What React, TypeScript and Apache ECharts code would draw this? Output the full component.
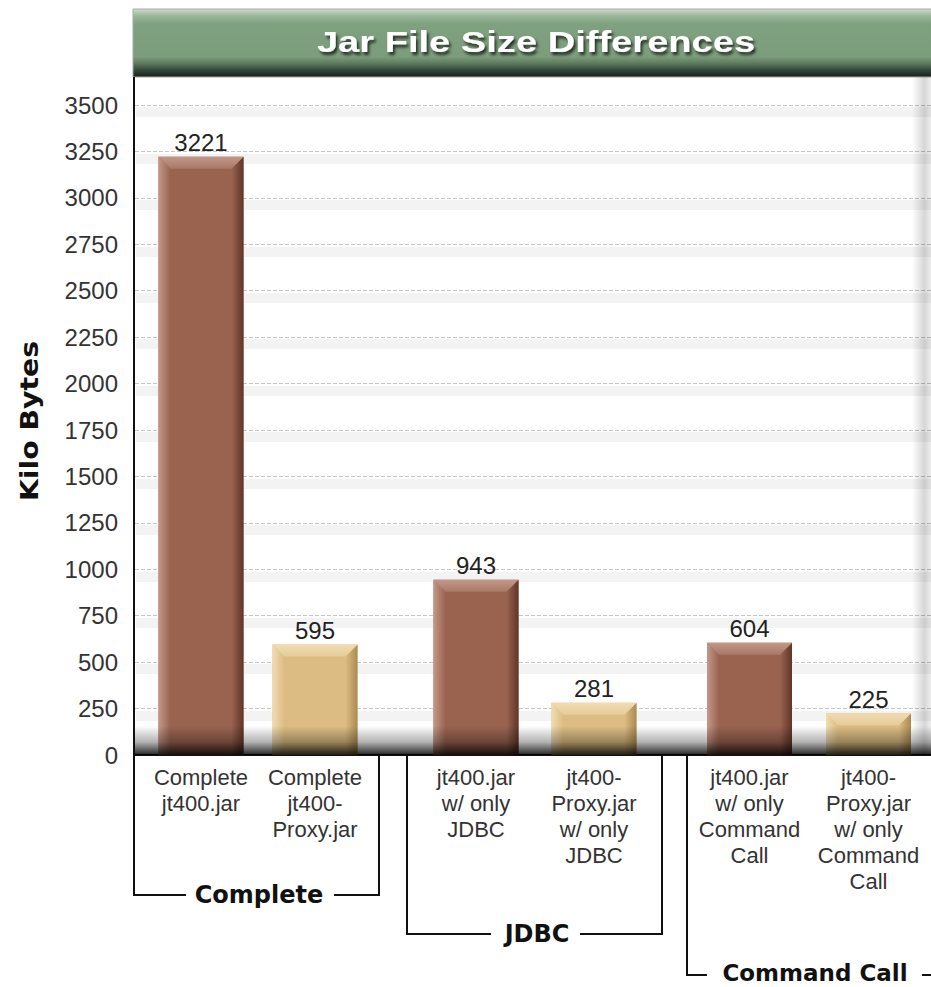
import React, { useEffect, useRef } from 'react';
import * as echarts from 'echarts';

// ---------- data ----------
const chartTitle = 'Jar File Size Differences';
const yAxisTitle = 'Kilo Bytes';
const groupNames = ['Complete', 'JDBC', 'Command Call'];
const jt400Labels = ['Complete\njt400.jar', 'jt400.jar\nw/ only\nJDBC', 'jt400.jar\nw/ only\nCommand\nCall'];
const proxyLabels = ['Complete\njt400-\nProxy.jar', 'jt400-\nProxy.jar\nw/ only\nJDBC', 'jt400-\nProxy.jar\nw/ only\nCommand\nCall'];
const jt400Sizes = [3221, 943, 604];
const proxySizes = [595, 281, 225];
const yMin = 0;
const yMax = 3500;
const yStep = 250;

// ---------- styling ----------
const W = 931;
const H = 987;
const PLOT_TOP = 105;
const PLOT_BASE = 755;
const BOTTOM = H - PLOT_BASE;
const SANS = '"Liberation Sans", Arial, Helvetica, sans-serif';
const BOLD = '"DejaVu Sans", Verdana, sans-serif';
const barGrids = [
  { left: 144, width: 228 },
  { left: 417, width: 236 },
  { left: 690, width: 238 },
];
const palettes = [
  { face: '#9a6350', light: '#c39888', mid: '#a97867', dark: '#603528' },
  { face: '#dcbc82', light: '#f0dcb2', mid: '#e6cc98', dark: '#aa8b52' },
];

const lin = (x2: number, y2: number, stops: [number, string][]) => ({
  type: 'linear', x: 0, y: 0, x2, y2, global: false,
  colorStops: stops.map(([offset, color]) => ({ offset, color })),
});

function renderBar(params: any, api: any) {
  const cat = api.value(0);
  const val = api.value(1);
  const top = api.coord([cat, val]);
  const base = api.coord([cat, 0]);
  const w = 85;
  const b = 12;
  const x0 = top[0] - w / 2;
  const x1 = x0 + w;
  const y0 = top[1];
  const y1 = base[1];
  const p = palettes[params.dataIndex % 2];
  return {
    type: 'group',
    children: [
      { type: 'rect', shape: { x: x0, y: y0, width: w, height: y1 - y0 }, style: { fill: p.face } },
      {
        type: 'polygon',
        shape: { points: [[x0, y0], [x0 + b, y0 + b], [x0 + b, y1], [x0, y1]] },
        style: { fill: lin(1, 0, [[0, p.light], [1, p.face]]) },
      },
      {
        type: 'polygon',
        shape: { points: [[x1, y0], [x1, y1], [x1 - b, y1], [x1 - b, y0 + b]] },
        style: { fill: lin(1, 0, [[0, p.face], [1, p.dark]]) },
      },
      {
        type: 'polygon',
        shape: { points: [[x0, y0], [x1, y0], [x1 - b, y0 + b], [x0 + b, y0 + b]] },
        style: { fill: lin(0, 1, [[0, p.light], [1, p.mid]]) },
      },
      {
        type: 'text',
        x: top[0],
        y: y0 - 14,
        style: {
          text: String(val),
          fontSize: 24,
          fontFamily: SANS,
          fill: '#222',
          align: 'center',
          verticalAlign: 'middle',
          textAlign: 'center',
          textVerticalAlign: 'middle',
        },
      },
    ],
  };
}

export default function App() {
  const ref = useRef<HTMLDivElement>(null);
  useEffect(() => {
    if (!ref.current) return;
    const chart = echarts.init(ref.current, null, { renderer: 'svg' });
    const lineStyle = { stroke: '#111', lineWidth: 2, fill: null };
    const groupLabel = (text: string, x: number, y: number, size = 24) => ({
      type: 'text',
      x,
      y,
      style: {
        text,
        fontSize: size,
        fontWeight: 'bold',
        fontFamily: BOLD,
        fill: '#111',
        align: 'center',
        verticalAlign: 'middle',
        textAlign: 'center',
        textVerticalAlign: 'middle',
      },
    });
    const option: any = {
      animation: false,
      backgroundColor: '#ffffff',
      grid: [
        { left: 136, right: 0, top: PLOT_TOP + 7, bottom: BOTTOM - 7 },
        { left: 135, right: 0, top: PLOT_TOP, bottom: BOTTOM },
        ...barGrids.map((g) => ({ left: g.left, width: g.width, top: PLOT_TOP, bottom: BOTTOM })),
      ],
      xAxis: [
        { gridIndex: 0, type: 'category', data: [''], show: false },
        {
          gridIndex: 1, type: 'category', data: [''],
          axisLine: { show: true, lineStyle: { color: '#111', width: 2 } },
          axisTick: { show: false }, axisLabel: { show: false },
        },
        ...groupNames.map((_, i) => ({
          gridIndex: 2 + i,
          type: 'category',
          data: [jt400Labels[i], proxyLabels[i]],
          axisLine: { show: false },
          axisTick: { show: false },
          axisLabel: { interval: 0, fontSize: 22, lineHeight: 26, color: '#333', fontFamily: SANS, margin: 9 },
        })),
      ],
      yAxis: [
        {
          gridIndex: 0, type: 'value', min: yMin, max: yMax, interval: yStep,
          axisLabel: { show: false }, axisLine: { show: false }, axisTick: { show: false },
          splitLine: { show: true, showMinLine: false, lineStyle: { color: '#f3f3f3', width: 10 } },
        },
        {
          gridIndex: 1, type: 'value', min: yMin, max: yMax, interval: yStep,
          axisLabel: {
            fontSize: 24, color: '#333', margin: 17, fontFamily: SANS,
            formatter: (v: number) => String(v),
          },
          axisLine: { show: false }, axisTick: { show: false },
          splitLine: { show: true, showMinLine: false, lineStyle: { color: '#c4c4c4', width: 1, type: [4, 2] } },
        },
        ...groupNames.map((_, i) => ({
          gridIndex: 2 + i, type: 'value', min: yMin, max: yMax, show: false,
        })),
      ],
      series: groupNames.map((_, i) => ({
        type: 'custom',
        name: groupNames[i],
        xAxisIndex: 2 + i,
        yAxisIndex: 2 + i,
        z: 5,
        encode: { x: 0, y: 1 },
        renderItem: renderBar,
        data: [
          [jt400Labels[i], jt400Sizes[i]],
          [proxyLabels[i], proxySizes[i]],
        ],
      })),
      graphic: [
        // title banner
        {
          type: 'rect', z: 1,
          shape: { x: 133, y: 9, width: 800, height: 68 },
          style: {
            fill: lin(0, 1, [
              [0, '#cfdccf'], [0.1, '#9ab79a'], [0.22, '#80a180'], [0.7, '#7c9d7c'],
              [0.8, '#5d7a5d'], [0.9, '#33463a'], [1, '#18201a'],
            ]),
            stroke: '#a8a8a8', lineWidth: 1,
          },
        },
        {
          type: 'text', z: 2, x: 536, y: 42, scaleX: 1.27,
          style: {
            text: chartTitle,
            fontSize: 30, fontWeight: 'bold', fontFamily: SANS, fill: '#ffffff',
            align: 'center', verticalAlign: 'middle', textAlign: 'center', textVerticalAlign: 'middle',
            shadowColor: 'rgba(0,0,0,0.7)', shadowBlur: 3, shadowOffsetX: 2, shadowOffsetY: 3,
            textShadowColor: 'rgba(0,0,0,0.7)', textShadowBlur: 3, textShadowOffsetX: 2, textShadowOffsetY: 3,
          },
        },
        // right wall shading
        {
          type: 'rect', z: 1,
          shape: { x: 912, y: 77, width: 19, height: PLOT_BASE - 77 },
          style: { fill: lin(1, 0, [[0, 'rgba(0,0,0,0)'], [0.65, 'rgba(0,0,0,0.16)'], [1, 'rgba(0,0,0,0.07)']]) },
        },
        // floor shadow
        {
          type: 'rect', z: 20,
          shape: { x: 135, y: 726, width: 796, height: PLOT_BASE - 726 },
          style: { fill: lin(0, 1, [[0, 'rgba(0,0,0,0)'], [0.55, 'rgba(0,0,0,0.3)'], [1, 'rgba(0,0,0,0.85)']]) },
        },
        // y axis title
        {
          type: 'text', z: 2, x: 30, y: 421, rotation: Math.PI / 2, scaleX: 1.18,
          style: {
            text: yAxisTitle,
            fontSize: 24, fontWeight: 'bold', fontFamily: BOLD, fill: '#111',
            align: 'center', verticalAlign: 'middle', textAlign: 'center', textVerticalAlign: 'middle',
          },
        },
        // left axis + Complete bracket
        { type: 'polyline', z: 21, shape: { points: [[134, 77], [134, 895], [186, 895]] }, style: lineStyle },
        { type: 'polyline', z: 21, shape: { points: [[334, 895], [379, 895], [379, 756]] }, style: lineStyle },
        groupLabel(groupNames[0], 259, 895),
        // JDBC bracket
        { type: 'polyline', z: 21, shape: { points: [[407, 756], [407, 934], [491, 934]] }, style: lineStyle },
        { type: 'polyline', z: 21, shape: { points: [[580, 934], [662, 934], [662, 756]] }, style: lineStyle },
        groupLabel(groupNames[1], 537, 934),
        // Command Call bracket
        { type: 'polyline', z: 21, shape: { points: [[687, 756], [687, 975], [707, 975]] }, style: lineStyle },
        { type: 'polyline', z: 21, shape: { points: [[922, 975], [933, 975]] }, style: lineStyle },
        groupLabel(groupNames[2], 815, 973, 23),
      ],
    };
    chart.setOption(option);
    return () => chart.dispose();
  }, []);
  return <div ref={ref} style={{ position: 'absolute', left: 0, top: 0, width: W, height: H }} />;
}
